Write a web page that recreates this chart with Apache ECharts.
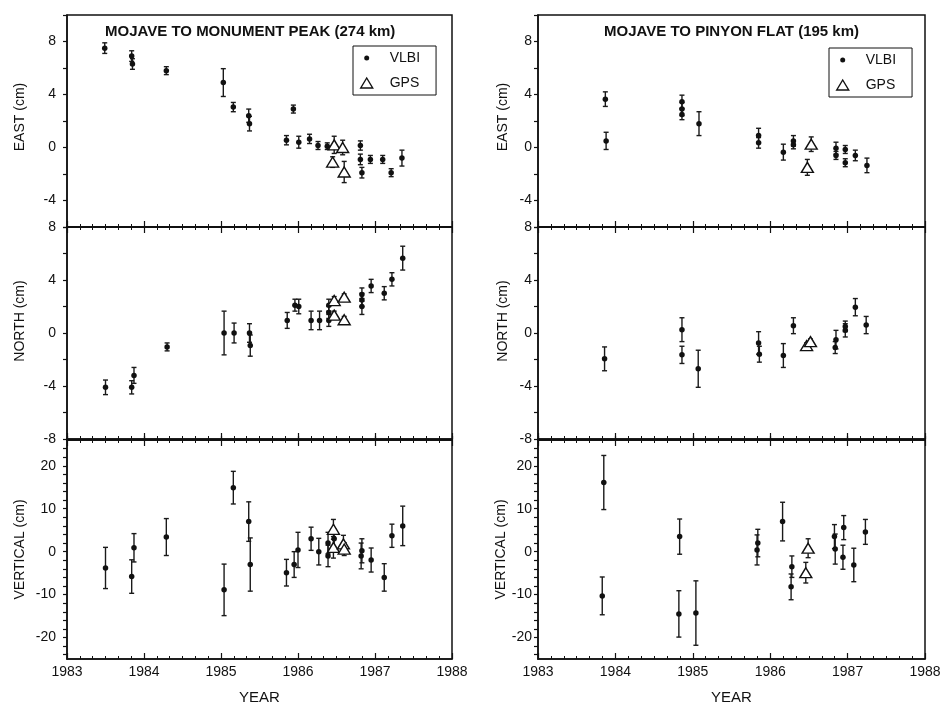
<!DOCTYPE html>
<html>
<head>
<meta charset="utf-8">
<script src="https://cdn.jsdelivr.net/npm/echarts@6/dist/echarts.min.js"></script>
<style>
  html, body { margin: 0; padding: 0; background: #fff; }
  #main { width: 940px; height: 703px; }
</style>
</head>
<body>
<div id="main"></div>
<script>
// every row is [year, value (cm), error (cm)]

// Mojave to Monument Peak
const mpEastVlbi = [
  [1983.49, 7.5, 0.4], [1983.84, 6.9, 0.4], [1983.85, 6.3, 0.4], [1984.29, 5.8, 0.3],
  [1985.03, 4.9, 1.05], [1985.16, 3.05, 0.35], [1985.36, 2.4, 0.5], [1985.37, 1.8, 0.55],
  [1985.85, 0.55, 0.35], [1985.94, 2.9, 0.3], [1986.01, 0.4, 0.45], [1986.15, 0.65, 0.35],
  [1986.26, 0.15, 0.3], [1986.38, 0.1, 0.25], [1986.81, 0.15, 0.35], [1986.81, -0.9, 0.4],
  [1986.83, -1.9, 0.4], [1986.94, -0.9, 0.3], [1987.10, -0.9, 0.3], [1987.21, -1.9, 0.3],
  [1987.35, -0.8, 0.6]
];
const mpEastGps = [
  [1986.47, 0.2, 0.65], [1986.58, 0.0, 0.55], [1986.45, -1.1, 0.4], [1986.60, -1.85, 0.8]
];
const mpNorthVlbi = [
  [1983.50, -4.1, 0.55], [1983.84, -4.1, 0.5], [1983.87, -3.2, 0.6], [1984.30, -1.05, 0.3],
  [1985.04, 0.0, 1.65], [1985.17, 0.0, 0.75], [1985.37, 0.0, 0.7], [1985.38, -0.95, 0.8],
  [1985.86, 0.95, 0.6], [1985.96, 2.1, 0.45], [1986.01, 2.0, 0.55], [1986.17, 0.95, 0.7],
  [1986.28, 0.95, 0.7], [1986.40, 0.95, 0.45], [1986.40, 1.55, 0.45], [1986.40, 2.1, 0.45],
  [1986.83, 2.9, 0.5], [1986.83, 2.5, 0.5], [1986.83, 2.0, 0.6], [1986.95, 3.55, 0.5],
  [1987.12, 3.0, 0.5], [1987.22, 4.05, 0.5], [1987.36, 5.65, 0.9]
];
const mpNorthGps = [
  [1986.47, 2.45, 0.3], [1986.60, 2.7, 0.25], [1986.47, 1.35, 0.3], [1986.60, 1.0, 0.25]
];
const mpVertVlbi = [
  [1983.50, -3.8, 4.8], [1983.84, -5.8, 3.9], [1983.87, 0.9, 3.3], [1984.29, 3.4, 4.3],
  [1985.04, -8.9, 6.0], [1985.16, 14.9, 3.8], [1985.36, 7.0, 4.6], [1985.38, -3.0, 6.2],
  [1985.85, -4.9, 3.1], [1985.95, -3.0, 3.0], [1986.00, 0.4, 4.1], [1986.17, 3.0, 2.7],
  [1986.27, 0.0, 3.1], [1986.39, 2.0, 2.5], [1986.39, -1.0, 2.5], [1986.47, 3.0, 2.2],
  [1986.82, -1.0, 3.0], [1986.83, 0.2, 2.8], [1986.95, -1.95, 2.8], [1987.12, -6.0, 3.2],
  [1987.22, 3.7, 2.7], [1987.36, 6.0, 4.6]
];
const mpVertGps = [
  [1986.46, 5.2, 2.3], [1986.46, 1.0, 2.5], [1986.59, 1.8, 2.0], [1986.60, 0.6, 1.5]
];

// Mojave to Pinyon Flat
const pfEastVlbi = [
  [1983.87, 3.65, 0.55], [1983.88, 0.5, 0.65], [1984.86, 3.45, 0.5], [1984.86, 2.9, 0.5],
  [1984.86, 2.5, 0.4], [1985.08, 1.8, 0.9], [1985.85, 0.9, 0.55], [1985.85, 0.35, 0.4],
  [1986.17, -0.35, 0.6], [1986.30, 0.5, 0.4], [1986.30, 0.2, 0.3], [1986.85, -0.05, 0.45],
  [1986.85, -0.6, 0.3], [1986.97, -0.15, 0.3], [1986.97, -1.15, 0.3], [1987.10, -0.6, 0.4],
  [1987.25, -1.35, 0.55]
];
const pfEastGps = [
  [1986.53, 0.25, 0.55], [1986.48, -1.5, 0.6]
];
const pfNorthVlbi = [
  [1983.86, -1.95, 0.9], [1984.86, 0.25, 0.9], [1984.86, -1.65, 0.65], [1985.07, -2.7, 1.4],
  [1985.85, -0.75, 0.85], [1985.86, -1.6, 0.6], [1986.17, -1.7, 0.9], [1986.30, 0.55, 0.6],
  [1986.84, -1.1, 0.45], [1986.85, -0.5, 0.7], [1986.97, 0.2, 0.5], [1986.97, 0.5, 0.4],
  [1987.10, 1.95, 0.65], [1987.24, 0.6, 0.65]
];
const pfNorthGps = [
  [1986.47, -0.95, 0.2], [1986.52, -0.65, 0.2]
];
const pfVertVlbi = [
  [1983.85, 16.1, 6.3], [1983.83, -10.3, 4.4], [1984.83, 3.5, 4.1], [1984.82, -14.5, 5.4],
  [1985.04, -14.3, 7.5], [1985.83, 0.4, 3.5], [1985.84, 2.0, 3.2], [1986.16, 7.0, 4.5],
  [1986.28, -3.5, 2.5], [1986.27, -8.2, 3.0], [1986.83, 3.5, 2.8], [1986.84, 0.6, 3.5],
  [1986.95, 5.6, 2.8], [1986.94, -1.3, 2.8], [1987.08, -3.1, 3.9], [1987.23, 4.6, 2.9]
];
const pfVertGps = [
  [1986.49, 0.8, 2.2], [1986.46, -4.9, 2.4]
];

// axis ticks and labels
const eastTicks = [-6, -4, -2, 0, 2, 4, 6, 8, 10];
const eastLabels = [-4, 0, 4, 8];
const northTicks = [-8, -6, -4, -2, 0, 2, 4, 6, 8];
const northLabels = [-8, -4, 0, 4, 8];
const vertTicks = [-24, -22, -20, -18, -16, -14, -12, -10, -8, -6, -4, -2, 0,
  2, 4, 6, 8, 10, 12, 14, 16, 18, 20, 22, 24];
const vertLabels = [-20, -10, 0, 10, 20];
const titles = ['MOJAVE TO MONUMENT PEAK (274 km)', 'MOJAVE TO PINYON FLAT (195 km)'];

const myChart = echarts.init(document.getElementById('main'));
const font = 'Liberation Sans, Arial, Helvetica, sans-serif';
const ink = '#111';

const cols = [
  { left: 67, width: 385, labelMargin: 11, nameGap: 40 },
  { left: 538, width: 387, labelMargin: 6, nameGap: 28 },
];
// namePad nudges the rotated axis title upwards
const rows = [
  { top: 15, height: 212, min: -6, max: 10, ticks: eastTicks, labels: eastLabels, name: 'EAST (cm)', namePad: 8 },
  { top: 227, height: 212, min: -8, max: 8, ticks: northTicks, labels: northLabels, name: 'NORTH (cm)', namePad: 24 },
  { top: 440, height: 219, min: -25, max: 26, ticks: vertTicks, labels: vertLabels, name: 'VERTICAL (cm)', namePad: 0 },
];
const panelData = [
  [mpEastVlbi, mpEastGps], [mpNorthVlbi, mpNorthGps], [mpVertVlbi, mpVertGps],
  [pfEastVlbi, pfEastGps], [pfNorthVlbi, pfNorthGps], [pfVertVlbi, pfVertGps],
];

// vertical error bar with small caps
const errorBar = (params, api) => {
  const x = api.value(0);
  const v = api.value(1);
  const e = api.value(2);
  const hi = api.coord([x, v + e]);
  const lo = api.coord([x, v - e]);
  const cap = 2.5;
  const style = { stroke: '#1a1a1a', lineWidth: 1.4 };
  return {
    type: 'group',
    children: [
      { type: 'line', shape: { x1: hi[0], y1: hi[1], x2: lo[0], y2: lo[1] }, style },
      { type: 'line', shape: { x1: hi[0] - cap, y1: hi[1], x2: hi[0] + cap, y2: hi[1] }, style },
      { type: 'line', shape: { x1: lo[0] - cap, y1: lo[1], x2: lo[0] + cap, y2: lo[1] }, style },
    ],
  };
};

const grids = [];
const xAxes = [];
const yAxes = [];
const series = [];
const extraX = [];

const xBase = (g, bottomRow) => ({
  type: 'value',
  gridIndex: g,
  min: 1983,
  max: 1988,
  interval: 1,
  axisLine: { show: true, onZero: false, lineStyle: { color: ink, width: 1.5 } },
  axisTick: { show: true, inside: true, length: 6, lineStyle: { color: ink, width: 1.2 } },
  minorTick: { show: true, splitNumber: 6, length: 3, lineStyle: { color: ink, width: 1 } },
  splitLine: { show: false },
  axisLabel: {
    show: bottomRow,
    margin: 6,
    color: ink,
    fontFamily: font,
    fontSize: 14,
    formatter: (v) => String(v),
  },
  name: bottomRow ? 'YEAR' : '',
  nameLocation: 'middle',
  nameGap: 31,
  nameTextStyle: { color: ink, fontFamily: font, fontSize: 15 },
});

cols.forEach((c, ci) => {
  rows.forEach((r, ri) => {
    const g = ci * 3 + ri;
    grids.push({
      left: c.left,
      top: r.top,
      width: c.width,
      height: r.height,
      outerBoundsMode: 'none',
      containLabel: false,
      show: true,
      borderColor: ink,
      borderWidth: 1.5,
      backgroundColor: 'transparent',
    });
    xAxes.push(xBase(g, ri === 2));
    if (ri > 0) {
      // ticks pointing down from the top edge
      extraX.push(Object.assign(xBase(g, false), { position: 'top', name: '' }));
    }
    if (ri === 2) {
      // ticks poking out below the bottom edge
      const out = xBase(g, false);
      out.axisTick.inside = false;
      out.axisTick.length = 4;
      out.minorTick.length = 2;
      extraX.push(out);
    }
    yAxes.push({
      type: 'value',
      gridIndex: g,
      min: r.min,
      max: r.max,
      axisLine: { show: true, onZero: false, lineStyle: { color: ink, width: 1.5 } },
      axisTick: { show: true, length: 4, customValues: r.ticks, lineStyle: { color: ink, width: 1.2 } },
      axisLabel: {
        customValues: r.labels,
        margin: c.labelMargin,
        color: ink,
        fontFamily: font,
        fontSize: 14,
      },
      splitLine: { show: false },
      name: r.name,
      nameLocation: 'middle',
      nameGap: c.nameGap,
      nameTextStyle: {
        color: ink,
        fontFamily: font,
        fontSize: 14,
        padding: [0, 0, 0, r.namePad],
      },
    });

    const [vlbi, gps] = panelData[g];
    series.push(
      {
        name: 'VLBI',
        type: 'scatter',
        xAxisIndex: g,
        yAxisIndex: g,
        data: vlbi,
        symbol: 'circle',
        symbolSize: 5.5,
        itemStyle: { color: ink, opacity: 1 },
        z: 4,
      },
      {
        name: 'VLBI',
        type: 'custom',
        xAxisIndex: g,
        yAxisIndex: g,
        data: vlbi,
        encode: { x: 0, y: 1 },
        renderItem: errorBar,
        silent: true,
        z: 2,
      },
      {
        name: 'GPS',
        type: 'scatter',
        xAxisIndex: g,
        yAxisIndex: g,
        data: gps,
        symbol: 'triangle',
        symbolSize: [12, 10],
        itemStyle: { color: '#fff', borderColor: ink, borderWidth: 1.4, opacity: 1 },
        z: 5,
      },
      {
        name: 'GPS',
        type: 'custom',
        xAxisIndex: g,
        yAxisIndex: g,
        data: gps,
        encode: { x: 0, y: 1 },
        renderItem: errorBar,
        silent: true,
        z: 3,
      }
    );
  });
});

const legendBox = (left, top) => ({
  orient: 'vertical',
  left: left,
  top: top,
  padding: [5, 16, 5, 6],
  itemWidth: 26,
  itemHeight: 12,
  itemGap: 11,
  borderColor: ink,
  borderWidth: 1,
  backgroundColor: '#fff',
  textStyle: { color: ink, fontFamily: font, fontSize: 14, padding: [0, 0, 0, 5] },
  data: [
    {
      name: 'VLBI',
      icon: 'path://M0,0M12,12M3.5,6a2.5,2.5 0 1,0 5,0a2.5,2.5 0 1,0 -5,0Z',
      itemStyle: { color: ink, borderWidth: 0 },
    },
    {
      name: 'GPS',
      icon: 'path://M0,0M14,12M1,11L7,1L13,11Z',
      itemStyle: { color: '#fff', borderColor: ink, borderWidth: 1.4 },
    },
  ],
});

const titleBox = (text, left) => ({
  text: text,
  left: left,
  top: 24,
  padding: 0,
  textStyle: { color: ink, fontFamily: font, fontSize: 15, fontWeight: 'bold' },
});

const option = {
  backgroundColor: '#fff',
  animation: false,
  title: [titleBox(titles[0], 105), titleBox(titles[1], 604)],
  legend: [legendBox(353, 46), legendBox(829, 48)],
  grid: grids,
  xAxis: xAxes.concat(extraX),
  yAxis: yAxes,
  series: series,
};

myChart.setOption(option);
</script>
</body>
</html>
